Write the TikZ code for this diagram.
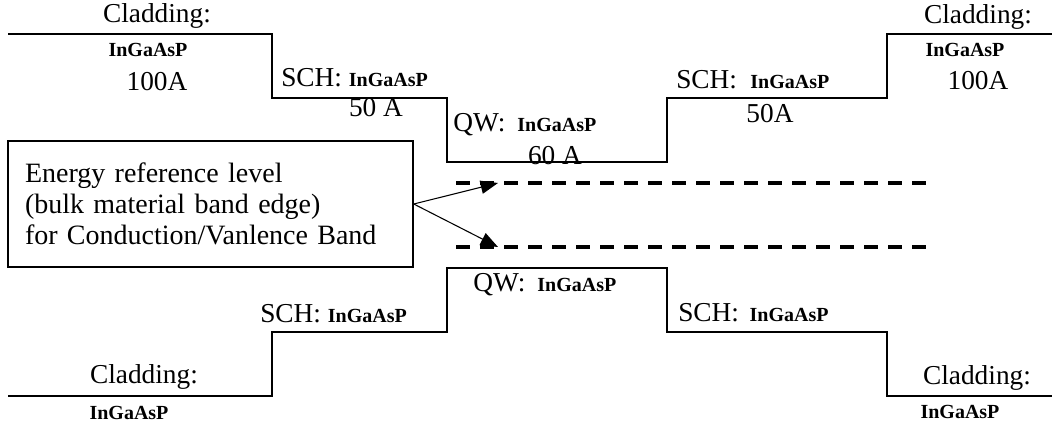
\documentclass[tikz,border=0pt]{standalone}
\usepackage{fontspec}
\setmainfont{Liberation Serif}
\usetikzlibrary{arrows.meta}
\newcommand\ingaasp{{\fontsize{15}{16}\selectfont\bfseries InGaAsP}}
\begin{document}
\begin{tikzpicture}[x=0.75pt,y=-0.75pt,
  band/.style={line width=1.1pt, line join=miter},
  reflevel/.style={line width=3pt, dash pattern=on 10.5pt off 7.5pt},
  pointer/.style={line width=0.8pt, -{Triangle[length=13pt,width=10pt]}},
  big/.style={font=\fontsize{20.5}{23.25}\selectfont, inner sep=0pt},
  mat/.style={font=\fontsize{15}{16}\selectfont\bfseries, inner sep=0pt},
  note/.style={draw, line width=1.1pt, font=\fontsize{21}{23.25}\selectfont,
    align=left, text width=278.25pt, inner xsep=12.75pt,
    minimum width=303.75pt, minimum height=94.5pt},
]
\useasboundingbox (0,0) rectangle (1052,423);

% conduction band profile
\draw[band] (8,34) -- (272,34) -- (272,98) -- (447,98) -- (447,162)
  -- (667,162) -- (667,98) -- (887,98) -- (887,34) -- (1052,34);
% valence band profile
\draw[band] (8,396) -- (272,396) -- (272,332) -- (447,332) -- (447,268)
  -- (667,268) -- (667,332) -- (887,332) -- (887,396) -- (1052,396);

% bulk band-edge reference levels
\coordinate (cL) at (456,183);
\coordinate (cR) at (926,183);
\coordinate (vL) at (456,247);
\coordinate (vR) at (926,247);
\draw[reflevel] (cL) -- (cR);
\draw[reflevel] (vL) -- (vR);

% explanatory note with pointers
\node[note] (box) at (210.5,204)
  {Energy reference level\\(bulk material band edge)\\for Conduction/Vanlence Band};
\coordinate (cA) at (498,183);
\coordinate (vA) at (498,247);
\draw[pointer] (box.east) -- (cA);
\draw[pointer] (box.east) -- (vA);

% layer labels, conduction band side
\node[big, anchor=base] (cladTL) at (157,23) {Cladding:};
\node[mat, anchor=base] (matTL) at (148,57) {InGaAsP};
\node[big, anchor=base] (thkTL) at (157,91) {100A};
\node[big, anchor=base west] (schTL) at (281,87) {SCH: \ingaasp};
\node[big, anchor=base] (thkSL) at (376,117) {50 A};
\node[big, anchor=base west] (qwT) at (453,132) {QW:\hspace{9pt}\ingaasp};
\node[big, anchor=base] (thkQW) at (555,165) {60 A};
\node[big, anchor=base west] (schTR) at (676,89) {SCH:\hspace{10pt}\ingaasp};
\node[big, anchor=base] (thkSR) at (770,123) {50A};
\node[big, anchor=base] (cladTR) at (978,24) {Cladding:};
\node[mat, anchor=base] (matTR) at (965,57) {InGaAsP};
\node[big, anchor=base] (thkTR) at (978,90) {100A};

% layer labels, valence band side
\node[big, anchor=base west] (qwB) at (473,292) {QW:\hspace{9pt}\ingaasp};
\node[big, anchor=base west] (schBL) at (260,323) {SCH: \ingaasp};
\node[big, anchor=base west] (schBR) at (678,322) {SCH:\hspace{8pt}\ingaasp};
\node[big, anchor=base] (cladBL) at (144,384) {Cladding:};
\node[mat, anchor=base] (matBL) at (129,420) {InGaAsP};
\node[big, anchor=base] (cladBR) at (977,385) {Cladding:};
\node[mat, anchor=base] (matBR) at (960,418) {InGaAsP};
\end{tikzpicture}
\end{document}
